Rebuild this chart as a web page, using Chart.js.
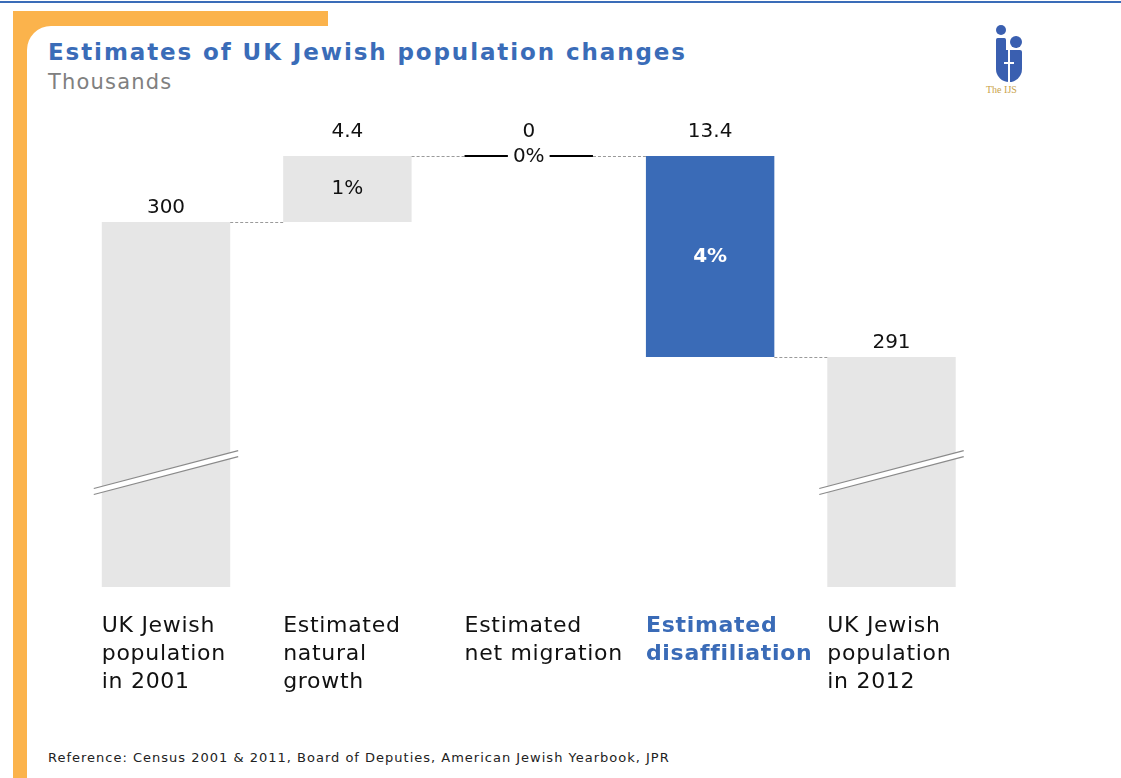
<!DOCTYPE html>
<html><head><meta charset="utf-8">
<script src="https://cdn.jsdelivr.net/npm/chart.js@4.4.0/dist/chart.umd.min.js"></script>
<style>
html,body{margin:0;padding:0;background:#fff;}
body{width:1121px;height:778px;position:relative;overflow:hidden;font-family:"DejaVu Sans",Verdana,sans-serif;}
#topline{position:absolute;left:0;top:1px;width:1121px;height:2px;background:#3a6cb8;}
#orange{position:absolute;left:13px;top:11px;width:315px;height:767px;background:#fbb34c;}
#white{position:absolute;left:27px;top:26px;width:301px;height:752px;background:#fff;border-top-left-radius:24px;}
#title{position:absolute;left:48px;top:37px;font-weight:bold;font-size:23px;letter-spacing:1.9px;color:#3a6cb8;white-space:nowrap;line-height:30px}
#sub{position:absolute;left:48px;top:69px;font-size:21px;letter-spacing:1.2px;color:#808080;line-height:26px}
#foot{position:absolute;left:48px;top:750px;font-size:13px;letter-spacing:1px;color:#222;line-height:16px;white-space:nowrap}
#wrap{position:absolute;left:0;top:0;width:1121px;height:778px;}
#logo{position:absolute;left:972px;top:24px;width:62px;height:76px;}
.dot{position:absolute;border-radius:50%;background:#3a5fb0;}
#logotext{position:absolute;left:14px;top:60px;font-size:10px;color:#c9a24a;font-family:"Liberation Serif",serif;white-space:nowrap}
</style></head>
<body>
<div id="topline"></div>
<div id="orange"></div>
<div id="white"></div>
<div id="title">Estimates of UK Jewish population changes</div>
<div id="sub">Thousands</div>
<div id="logo">
  <div class="dot" style="left:24px;top:1px;width:10px;height:10px"></div>
  <div class="dot" style="left:38px;top:12px;width:12px;height:12px"></div>
  <div style="position:absolute;left:24px;top:14px;width:10px;height:34px;background:#3a5fb0;border-radius:2px 2px 6px 6px"></div>
  <div style="position:absolute;left:24px;top:26px;width:26px;height:32px;background:#3a5fb0;border-radius:2px 2px 13px 13px"></div>
  <div style="position:absolute;left:36px;top:26px;width:2px;height:32px;background:#fff"></div>
  <div style="position:absolute;left:32px;top:38px;width:10px;height:2px;background:#fff"></div>
  <div id="logotext">The IJS</div>
</div>
<div id="foot">Reference: Census 2001 &amp; 2011, Board of Deputies, American Jewish Yearbook, JPR</div>
<div id="wrap"><canvas id="c" width="1121" height="778"></canvas></div>
<script>
// ---- data ----
const categories = [
  ["UK Jewish", "population", "in 2001"],
  ["Estimated", "natural", "growth"],
  ["Estimated", "net migration"],
  ["Estimated", "disaffiliation"],
  ["UK Jewish", "population", "in 2012"]
];
const values = [300, 4.4, 0, -13.4, 291];          // thousands
const kinds = ["total", "delta", "delta", "delta", "total"];
const valueLabels = ["300", "4.4", "0", "13.4", "291"];
const shareLabels = ["", "1%", "0%", "4%", ""];
// broken axis range (thousands)
const axisMin = 275.67;
const axisMax = 310;
const breakAt = 283.3;

// ---- styles ----
const GREY = "#e6e6e6";
const BLUE = "#3a6bb7";
const highlightIndex = 3;
const FONT = '"DejaVu Sans", Verdana, sans-serif';

// waterfall ranges
let run = 0;
const levels = [];
const ranges = values.map((v, i) => {
  if (kinds[i] === "total") { run = v; levels.push(run); return [axisMin, v]; }
  const a = run, b = run + v; run = b; levels.push(run);
  return [Math.min(a, b), Math.max(a, b)];
});
const colors = values.map((v, i) => i === highlightIndex ? BLUE : GREY);

const waterfallPlugin = {
  id: "waterfall",
  afterDatasetsDraw(chart) {
    const ctx = chart.ctx;
    const meta = chart.getDatasetMeta(0);
    const ys = chart.scales.y;
    const els = meta.data;
    ctx.save();
    // connectors
    ctx.strokeStyle = "#9a9a9a";
    ctx.lineWidth = 1;
    ctx.setLineDash([3, 2]);
    for (let i = 0; i < els.length - 1; i++) {
      const y = Math.round(ys.getPixelForValue(levels[i])) + 0.5;
      const x1 = els[i].x + els[i].width / 2;
      const x2 = els[i + 1].x - els[i + 1].width / 2;
      ctx.beginPath(); ctx.moveTo(x1, y); ctx.lineTo(x2, y); ctx.stroke();
    }
    ctx.setLineDash([]);
    els.forEach((el, i) => {
      const top = Math.min(el.y, el.base);
      const bot = Math.max(el.y, el.base);
      const left = el.x - el.width / 2, right = el.x + el.width / 2;
      ctx.textAlign = "center";
      ctx.textBaseline = "middle";
      ctx.letterSpacing = "0px";
      // axis break marks
      if (kinds[i] === "total") {
        const yc = ys.getPixelForValue(breakAt);
        const ext = 8, half = (right - left) / 2 + ext;
        const slope = 38 / 145;
        const xl = el.x - half, xr = el.x + half;
        const yl = yc + half * slope, yr = yc - half * slope;
        ctx.fillStyle = "#fff";
        ctx.beginPath();
        ctx.moveTo(xl, yl - 3); ctx.lineTo(xr, yr - 3); ctx.lineTo(xr, yr + 3); ctx.lineTo(xl, yl + 3); ctx.closePath();
        ctx.fill();
        ctx.strokeStyle = "#8a8a8a"; ctx.lineWidth = 1.2;
        ctx.beginPath(); ctx.moveTo(xl, yl - 3); ctx.lineTo(xr, yr - 3); ctx.stroke();
        ctx.beginPath(); ctx.moveTo(xl, yl + 3); ctx.lineTo(xr, yr + 3); ctx.stroke();
      }
      // share labels
      if (shareLabels[i]) {
        const ym = (top + bot) / 2;
        if (bot - top < 1) {
          ctx.font = "20px " + FONT;
          const tw = ctx.measureText(shareLabels[i]).width;
          ctx.strokeStyle = "#000"; ctx.lineWidth = 2;
          const yy = Math.round(ym);
          ctx.beginPath(); ctx.moveTo(left, yy); ctx.lineTo(el.x - tw / 2 - 5, yy); ctx.stroke();
          ctx.beginPath(); ctx.moveTo(el.x + tw / 2 + 5, yy); ctx.lineTo(right, yy); ctx.stroke();
          ctx.fillStyle = "#111";
          ctx.fillText(shareLabels[i], el.x, ym + 1);
        } else if (i === highlightIndex) {
          ctx.font = "bold 20px " + FONT;
          ctx.fillStyle = "#fff";
          ctx.fillText(shareLabels[i], el.x, ym);
        } else {
          ctx.font = "20px " + FONT;
          ctx.fillStyle = "#111";
          ctx.fillText(shareLabels[i], el.x, ym);
        }
      }
      // value labels
      ctx.font = "20px " + FONT;
      ctx.fillStyle = "#111";
      const off = kinds[i] === "total" ? 14 : 24;
      ctx.fillText(valueLabels[i], el.x, top - off);
      // category labels
      ctx.textAlign = "left";
      ctx.letterSpacing = "0.7px";
      ctx.font = (i === highlightIndex ? "bold " : "") + "22px " + FONT;
      ctx.fillStyle = i === highlightIndex ? BLUE : "#111";
      const yb = ys.getPixelForValue(axisMin);
      categories[i].forEach((line, k) => {
        ctx.fillText(line, left, yb + 39 + k * 28);
      });
      ctx.letterSpacing = "0px";
    });
    ctx.restore();
  }
};

new Chart(document.getElementById("c"), {
  type: "bar",
  data: {
    labels: categories.map(c => c.join(" ")),
    datasets: [{
      data: ranges,
      backgroundColor: colors,
      borderWidth: 0,
      categoryPercentage: 1,
      barPercentage: 0.708
    }]
  },
  options: {
    responsive: false,
    animation: false,
    layout: { padding: { left: 75.3, right: 138.8, top: 72, bottom: 191 } },
    plugins: { legend: { display: false }, tooltip: { enabled: false } },
    scales: {
      x: { display: false },
      y: { display: false, min: axisMin, max: axisMax }
    }
  },
  plugins: [waterfallPlugin]
});
</script>
</body></html>
